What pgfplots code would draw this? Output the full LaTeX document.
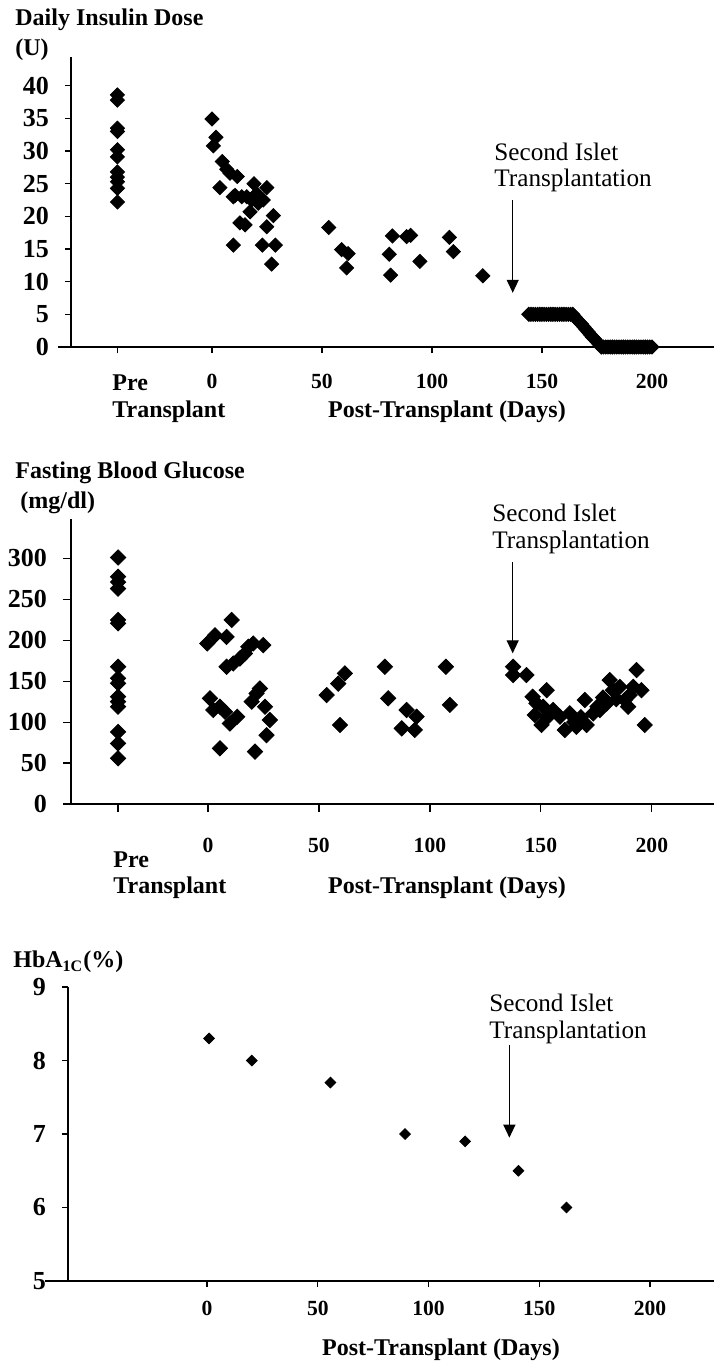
\documentclass[border=0pt]{standalone}
\usepackage{fontspec}
\setmainfont{Liberation Serif}
\usepackage{pgfplots}
\pgfplotsset{compat=1.18}
\usetikzlibrary{arrows.meta}

\pgfplotsset{
  panel/.style={
    scale only axis, anchor=south west, clip=false,
    axis lines*=left,
    axis line style={line width=0.7pt},
    tick align=outside,
    major tick length=3pt,
    every tick/.style={black, line width=0.6pt},
    xticklabel style={font=\fontsize{10.8}{13}\selectfont\bfseries},
    yticklabel style={font=\fontsize{13}{15}\selectfont\bfseries, xshift=-4.5pt},
    /pgf/number format/assume math mode=true,
  },
  dots/.style={only marks, mark=square*, mark size=2.5pt,
    mark options={rotate=45, fill=black, draw=black}},
}
\tikzset{arr/.style={-{Triangle[length=6.5pt,width=6pt]}, line width=0.6pt}}
\newcommand{\lab}{\fontsize{12}{14}\selectfont\bfseries}
\newcommand{\ann}{\fontsize{12.6}{14}\selectfont}

\begin{document}
\begin{tikzpicture}
\useasboundingbox (0pt,0pt) rectangle (357pt,-682.5pt);

% ---------- Daily insulin dose ----------
\begin{axis}[panel,
  at={(35.5pt,-173.5pt)}, width=321.5pt, height=145pt,
  xmin=-64.1, xmax=228.2, ymin=0, ymax=44.4,
  ytick={0,5,...,40},
  xtick={-43,0,50,100,150,200}, xticklabels={,0,50,100,150,200},
  xticklabel style={yshift=-7pt},
]
\addplot[dots] coordinates {
  (-43,38.6)(-43,37.8)(-43,33.5)(-43,33.0)(-43,30.2)(-43,29.1)
  (-43,26.8)(-43,26.0)(-43,25.3)(-43,24.3)(-43,22.2)
};
\addplot[dots] coordinates {
  (0,34.9)(1.8,32.1)(0.6,30.8)(4.7,28.4)(6.7,27.2)(8.2,26.6)(11.5,26.1)
  (3.6,24.4)(9.7,23.0)(10.5,23.2)(13.5,23.0)(15.8,23.0)(18,22.5)(19.1,25.0)
  (20.3,23.5)(21,22.0)(23.3,22.5)(24.9,24.4)(17.3,20.7)(12.7,19.0)(15,18.7)
  (24.9,18.4)(27.9,20.1)(9.7,15.6)(22.9,15.6)(28.8,15.6)(27.1,12.7)
  (53.1,18.3)(58.9,14.9)(61.9,14.3)(61.2,12.1)
  (82,17.0)(80.6,14.2)(81.2,11.0)(88.5,16.9)(90.3,17.1)(94.5,13.1)
  (107.9,16.8)(109.7,14.6)(123.1,10.9)
};
\addplot[dots] coordinates {
  (144,5)(145,5)(146,5)(147,5)(148,5)(149,5)(150,5)(151,5)(152,5)(153,5)
  (154,5)(155,5)(156,5)(157,5)(158,5)(159,5)(160,5)(161,5)(162,5)(163,5)(164,5)
  (165,4.6)(166,4.2)(167,3.8)(168,3.5)(169,3.1)(170,2.7)(171,2.3)(172,1.9)
  (173,1.5)(174,1.2)(175,0.8)(176,0.4)
  (177,0)(178,0)(179,0)(180,0)(181,0)(182,0)(183,0)(184,0)(185,0)(186,0)
  (187,0)(188,0)(189,0)(190,0)(191,0)(192,0)(193,0)(194,0)(195,0)(196,0)
  (197,0)(198,0)(199,0)(200,0)
};
\draw[arr] (axis cs:136.7,22.5) -- (axis cs:136.7,8.3);
\draw[line width=0.6pt] (rel axis cs:0,0) -- ++(-6.5pt,0pt);
\end{axis}
\node[inner sep=0, anchor=west] at (7.5pt,-10pt) {\lab Daily Insulin Dose};
\node[inner sep=0, anchor=west] at (7.5pt,-25pt) {\lab (U)};
\node[inner sep=0, anchor=west] at (247pt,-76pt) {\ann Second Islet};
\node[inner sep=0, anchor=west] at (247pt,-90pt) {\ann Transplantation};
\node[inner sep=0, anchor=west] at (56pt,-191.5pt) {\lab Pre};
\node[inner sep=0, anchor=west] at (56pt,-206pt) {\lab Transplant};
\node[inner sep=0] at (223.5pt,-206pt) {\lab Post-Transplant (Days)};

% ---------- Fasting blood glucose ----------
\begin{axis}[panel,
  at={(35.5pt,-402pt)}, width=321.5pt, height=142.5pt,
  xmin=-61.7, xmax=228, ymin=0, ymax=348,
  ytick={0,50,...,300},
  xtick={-40.5,0,50,100,150,200}, xticklabels={,0,50,100,150,200},
  xticklabel style={yshift=-9.5pt},
  major tick length=4pt,
]
\addplot[dots, mark size=2.7pt] coordinates {
  (-40.5,301)(-40.5,277.5)(-40.5,271)(-40.5,263)(-40.5,224.7)(-40.5,220.6)
  (-40.5,167.6)(-40.5,153.5)(-40.5,147.4)(-40.5,131)(-40.5,125)(-40.5,118.8)
  (-40.5,88)(-40.5,74)(-40.5,55.8)
};
\addplot[dots, mark size=2.7pt] coordinates {
  (-0.3,196)(3.2,206)(8.4,204)(10.7,224.7)(8.4,167.6)(11.4,171.6)(14.4,177.7)
  (16.7,183.8)(18.2,192)(20.4,196)(24.9,194)(0.9,129)(2.4,114.8)(5.4,118.8)
  (7.7,112.6)(9.9,98.3)(13.2,106.5)(5.4,68)(19.7,125)(21.9,135)(23.4,141)
  (25.7,118.8)(27.9,102.6)(26.4,84)(21.2,63.9)
  (53.5,133)(58.7,147)(61.7,159.5)(59.5,96.5)
  (79.7,167.6)(81.2,129)(89.5,114.8)(87.3,92.4)(94,106.6)(93.2,90.4)
  (107.2,167.6)(109,121)
  (137.5,167.6)(137.5,157.5)(143.5,157.5)(146.3,131)(152.6,139)(147.3,108.7)
  (148,123)(150.3,96.5)(151,118.8)(153,106)(155.5,114.8)(158.6,106.6)
  (160.8,90.4)(163,110.6)(165,100)(166,94.4)(168,106)(169.8,127)(170.6,96.5)
  (173.6,110.6)(175.5,119)(176.6,114.8)(178,130)(179.6,122.7)(181,151.4)
  (182.5,139)(184,128)(185.6,143)(187.8,127)(189.3,118.8)(190,133)
  (191.6,143)(193.1,163.6)(195.3,139)(196.8,96.5)
};
\draw[arr] (axis cs:137.3,295.5) -- (axis cs:137.3,184);
\end{axis}
\node[inner sep=0, anchor=west] at (7.5pt,-236.5pt) {\lab Fasting Blood Glucose};
\node[inner sep=0, anchor=west] at (10pt,-251.5pt) {\lab (mg/dl)};
\node[inner sep=0, anchor=west] at (246pt,-256.5pt) {\ann Second Islet};
\node[inner sep=0, anchor=west] at (246pt,-271pt) {\ann Transplantation};
\node[inner sep=0, anchor=west] at (56.5pt,-430pt) {\lab Pre};
\node[inner sep=0, anchor=west] at (56.5pt,-444pt) {\lab Transplant};
\node[inner sep=0] at (223.5pt,-444pt) {\lab Post-Transplant (Days)};

% ---------- HbA1c ----------
\begin{axis}[panel,
  at={(34pt,-640.5pt)}, width=323pt, height=147pt,
  xmin=-62.8, xmax=228.9, ymin=5, ymax=9,
  ytick={5,6,7,8,9},
  xtick={0,50,100,150,200},
  xticklabel style={yshift=-3.5pt},
]
\addplot[dots, mark size=1.9pt] coordinates {
  (0.9,8.3)(20.2,8.0)(55.7,7.7)(89.4,7.0)(116.5,6.9)(140.6,6.5)(162.3,6.0)
};
\draw[arr] (axis cs:136.5,8.21) -- (axis cs:136.5,6.95);
\draw[line width=0.6pt] (rel axis cs:0,0) -- ++(-11.5pt,0pt);
\end{axis}
\node[inner sep=0, anchor=west] at (6.5pt,-481pt) {\lab HbA\textsubscript{1C}(\%)};
\node[inner sep=0, anchor=west] at (244.5pt,-501.5pt) {\ann Second Islet};
\node[inner sep=0, anchor=west] at (244.5pt,-516pt) {\ann Transplantation};
\node[inner sep=0] at (220.5pt,-675pt) {\lab Post-Transplant (Days)};
\end{tikzpicture}
\end{document}
